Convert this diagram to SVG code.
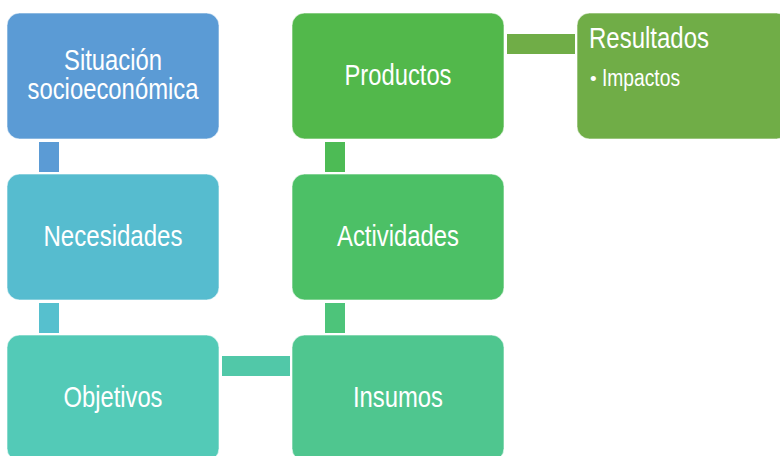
<svg xmlns="http://www.w3.org/2000/svg" width="780" height="456" viewBox="0 0 780 456">
<style>
.box{stroke:#ffffff;stroke-opacity:0.6;stroke-width:1}
.t{font-family:"Liberation Sans",Arial,sans-serif;font-size:29px;fill:#ffffff;text-anchor:middle}
.tl{font-family:"Liberation Sans",Arial,sans-serif;fill:#ffffff}
</style>
<rect width="780" height="456" fill="#ffffff"/>
<g id="connectors">
<rect x="39" y="142" width="20" height="30" fill="#5B9BD5"/>
<rect x="39" y="303" width="20" height="30" fill="#56C0CE"/>
<rect x="222" y="356" width="68" height="20" fill="#51C8A8"/>
<rect x="325" y="303" width="20" height="30" fill="#4DC47A"/>
<rect x="325" y="142" width="20" height="30" fill="#4DBB55"/>
<rect x="507" y="34" width="68" height="20" fill="#70AD47"/>
</g>
<g id="situacion">
<rect class="box" x="7" y="13" width="212" height="126" rx="12.6" fill="#5B9BD5"/>
<text class="t" x="113" y="70" textLength="98" lengthAdjust="spacingAndGlyphs">Situación</text>
<text class="t" x="113" y="99" textLength="171" lengthAdjust="spacingAndGlyphs">socioeconómica</text>
</g>
<g id="necesidades">
<rect class="box" x="7" y="174" width="212" height="126" rx="12.6" fill="#56BCCF"/>
<text class="t" x="113" y="246" textLength="139" lengthAdjust="spacingAndGlyphs">Necesidades</text>
</g>
<g id="objetivos">
<rect class="box" x="7" y="335" width="212" height="126" rx="12.6" fill="#53CAB7"/>
<text class="t" x="113" y="407" textLength="99" lengthAdjust="spacingAndGlyphs">Objetivos</text>
</g>
<g id="insumos">
<rect class="box" x="292" y="335" width="212" height="126" rx="12.6" fill="#4FC68F"/>
<text class="t" x="398" y="407" textLength="90" lengthAdjust="spacingAndGlyphs">Insumos</text>
</g>
<g id="actividades">
<rect class="box" x="292" y="174" width="212" height="126" rx="12.6" fill="#4CC066"/>
<text class="t" x="398" y="246" textLength="122" lengthAdjust="spacingAndGlyphs">Actividades</text>
</g>
<g id="productos">
<rect class="box" x="292" y="13" width="212" height="126" rx="12.6" fill="#52B84B"/>
<text class="t" x="398" y="85" textLength="107" lengthAdjust="spacingAndGlyphs">Productos</text>
</g>
<g id="resultados">
<rect class="box" x="577" y="13" width="212" height="126" rx="12.6" fill="#70AD47"/>
<text class="tl" x="589" y="48" font-size="29" textLength="120" lengthAdjust="spacingAndGlyphs">Resultados</text>
<text class="tl" x="590" y="85" font-size="19">•</text>
<text class="tl" x="602" y="86" font-size="23" textLength="78" lengthAdjust="spacingAndGlyphs">Impactos</text>
</g>
</svg>
